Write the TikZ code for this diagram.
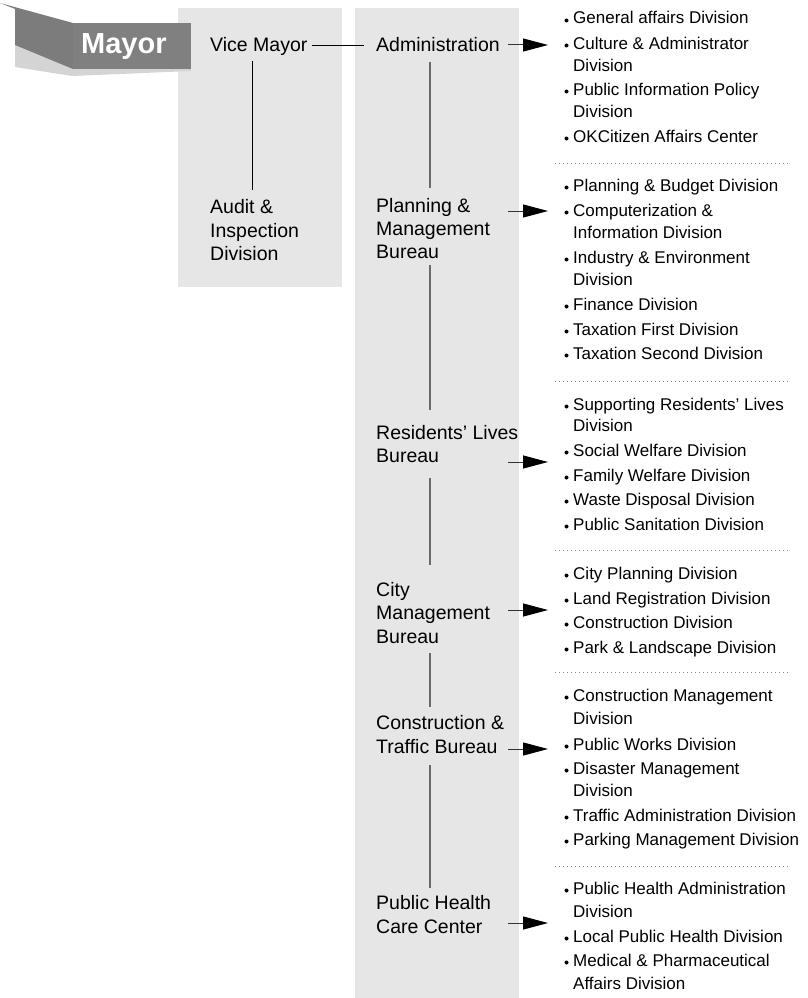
\documentclass[tikz,border=0pt]{standalone}
\usepackage{fontspec}
\setmainfont{Liberation Sans}
\usetikzlibrary{arrows.meta}
\definecolor{panel}{HTML}{E6E6E6}
\definecolor{mayorgray}{HTML}{808080}
\definecolor{flapgray}{HTML}{7C7C7C}
\definecolor{shadowgray}{HTML}{D4D4D4}
\definecolor{linegray}{HTML}{6A6A6A}
\newcommand\bitem[3]{\fill (566.5,{#1-3.5}) circle[radius=2pt]; \node[litem] (#2) at (573,#1) {#3};}
\newcommand\citem[3]{\node[litem] (#2) at (573,#1) {#3};}
\begin{document}
\begin{tikzpicture}[x=1pt,y=-1pt,
  midtxt/.style={anchor=base west, inner sep=0pt, text height=14pt, text depth=0pt, font=\fontsize{19.5}{23}\selectfont},
  litem/.style={anchor=base west, inner sep=0pt, font=\fontsize{17}{20}\selectfont},
  vline/.style={draw=linegray, line width=1.3pt},
  conn/.style={draw=black, line width=0.9pt},
  arr/.style={draw=black!80, line width=1pt, -{Triangle[length=25pt,width=13pt,color=black]}},
  sepline/.style={draw=black!45, line width=0.8pt, dash pattern=on 0.8pt off 3.2pt}]
\useasboundingbox (0,0) rectangle (808,998);
% panels
\fill[panel] (178,8) rectangle (342,287);
\fill[panel] (355,8) rectangle (519,998);
% mayor banner
\fill[shadowgray] (15,43) -- (15,67) -- (72,76) -- (191,71) -- (191,69) -- (73,69) -- cycle;
\fill[flapgray] (0,3) -- (73,23) -- (73,69) -- (15,45) -- (15,9) -- cycle;
\fill[mayorgray] (73,23) rectangle (191,69);
\node[anchor=base west, inner sep=0pt, text=white, font=\bfseries\fontsize{29}{30}\selectfont] (mayor) at (81,54) {Mayor};
% left column
\node[midtxt] (vm) at (210,52) {Vice Mayor};
\node[midtxt] (auda) at (210,213) {Audit \&};
\node[midtxt] (audb) at (210,237) {Inspection};
\node[midtxt] (audc) at (210,260) {Division};
% middle column
\node[midtxt] (admin) at (376,52) {Administration};
\node[midtxt] (plana) at (376,212) {Planning \&};
\node[midtxt] (planb) at (376,235) {Management};
\node[midtxt] (planc) at (376,258) {Bureau};
\node[midtxt] (resa) at (376,439) {Residents’ Lives};
\node[midtxt] (resb) at (376,462) {Bureau};
\node[midtxt] (citya) at (376,596) {City};
\node[midtxt] (cityb) at (376,619) {Management};
\node[midtxt] (cityc) at (376,643) {Bureau};
\node[midtxt] (consa) at (376,729) {Construction \&};
\node[midtxt] (consb) at (376,753) {Traffic Bureau};
\node[midtxt] (pha) at (376,909) {Public Health};
\node[midtxt] (phb) at (376,933) {Care Center};
\coordinate (spine) at (430,0);
\coordinate (lspine) at (252,0);
% connectors
\draw[conn, shorten <=4.5pt, shorten >=12pt] (vm.east) -- (admin.west);
\draw[conn, shorten <=9pt, shorten >=9pt] (vm.south -| lspine) -- (auda.north -| lspine);
\draw[vline, shorten <=10pt, shorten >=10pt] (admin.south -| spine) -- (plana.north -| spine);
\draw[vline, shorten <=7pt, shorten >=15pt] (planc.south -| spine) -- (resa.north -| spine);
\draw[vline, shorten <=16pt, shorten >=17pt] (resb.south -| spine) -- (citya.north -| spine);
\draw[vline, shorten <=10pt, shorten >=8pt] (cityc.south -| spine) -- (consa.north -| spine);
\draw[vline, shorten <=12pt, shorten >=7pt] (consb.south -| spine) -- (pha.north -| spine);
% arrows
\coordinate (a1s) at (508,45);  \coordinate (a1e) at (548,45);
\coordinate (a2s) at (508,211); \coordinate (a2e) at (548,211);
\coordinate (a3s) at (508,462); \coordinate (a3e) at (548,462);
\coordinate (a4s) at (508,610); \coordinate (a4e) at (548,610);
\coordinate (a5s) at (508,749); \coordinate (a5e) at (548,749);
\coordinate (a6s) at (508,923); \coordinate (a6e) at (548,923);
\foreach \i in {1,...,6} {\draw[arr] (a\i s) -- (a\i e);}
% lists
\bitem{24}{l1a}{General affairs Division}
\bitem{49}{l1b}{Culture \& Administrator}
\citem{71}{l1bb}{Division}
\bitem{95}{l1c}{Public Information Policy}
\citem{117}{l1cc}{Division}
\bitem{142}{l1d}{OKCitizen Affairs Center}
\draw[sepline] (555,163) -- (790,163);
\bitem{191}{l2a}{Planning \& Budget Division}
\bitem{216}{l2b}{Computerization \&}
\citem{238}{l2bb}{Information Division}
\bitem{263}{l2c}{Industry \& Environment}
\citem{285}{l2cc}{Division}
\bitem{310}{l2d}{Finance Division}
\bitem{335}{l2e}{Taxation First Division}
\bitem{359}{l2f}{Taxation Second Division}
\draw[sepline] (555,381) -- (790,381);
\bitem{410}{l3a}{Supporting Residents’ Lives}
\citem{431}{l3aa}{Division}
\bitem{456}{l3b}{Social Welfare Division}
\bitem{481}{l3c}{Family Welfare Division}
\bitem{505}{l3d}{Waste Disposal Division}
\bitem{530}{l3e}{Public Sanitation Division}
\draw[sepline] (555,550) -- (790,550);
\bitem{579}{l4a}{City Planning Division}
\bitem{604}{l4b}{Land Registration Division}
\bitem{628}{l4c}{Construction Division}
\bitem{653}{l4d}{Park \& Landscape Division}
\draw[sepline] (555,672) -- (790,672);
\bitem{701}{l5a}{Construction Management}
\citem{724}{l5aa}{Division}
\bitem{750}{l5b}{Public Works Division}
\bitem{774}{l5c}{Disaster Management}
\citem{796}{l5cc}{Division}
\bitem{821}{l5d}{Traffic Administration Division}
\bitem{845}{l5e}{Parking Management Division}
\draw[sepline] (555,866) -- (790,866);
\bitem{894}{l6a}{Public Health Administration}
\citem{917}{l6aa}{Division}
\bitem{942}{l6b}{Local Public Health Division}
\bitem{966}{l6c}{Medical \& Pharmaceutical}
\citem{989}{l6cc}{Affairs Division}
\end{tikzpicture}
\end{document}
